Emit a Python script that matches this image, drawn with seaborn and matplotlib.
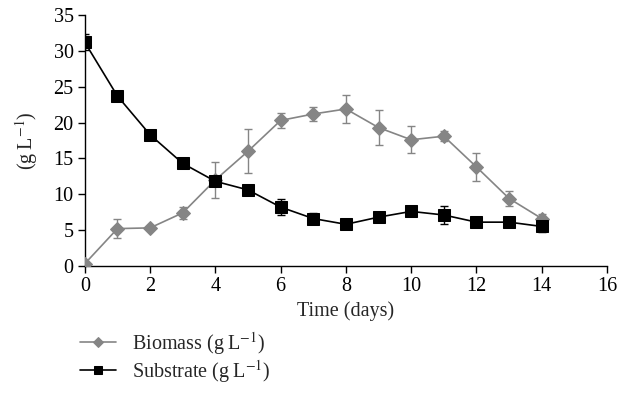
import numpy as np
import pandas as pd
import seaborn as sns
import matplotlib.pyplot as plt

# values
days = [0, 1, 2, 3, 4, 5, 6, 7, 8, 9, 10, 11, 12, 13, 14]
biomass = [0.3, 5.2, 5.3, 7.4, 12.0, 16.0, 20.3, 21.2, 21.9, 19.3, 17.6, 18.1, 13.8, 9.4, 6.6]
biomass_err = [0.2, 1.3, 0.3, 0.8, 2.5, 3.1, 1.0, 1.0, 2.0, 2.4, 1.9, 0.7, 1.9, 1.1, 0.6]
substrate = [31.2, 23.7, 18.3, 14.3, 11.8, 10.6, 8.2, 6.6, 5.8, 6.8, 7.6, 7.1, 6.1, 6.1, 5.5]
substrate_err = [1.1, 0.3, 0.3, 0.3, 0.4, 0.3, 1.1, 0.8, 0.3, 0.5, 0.3, 1.2, 0.3, 0.3, 0.8]

sns.set_style("ticks")
plt.rcParams['font.family'] = ['Liberation Serif', 'DejaVu Serif']
plt.rcParams['mathtext.fontset'] = 'stix'

df = pd.DataFrame({'day': days * 2,
                   'value': biomass + substrate,
                   'err': biomass_err + substrate_err,
                   'series': ['Biomass (g\u2009L$^{-1}$)'] * len(days) + ['Substrate (g\u2009L$^{-1}$)'] * len(days)})

fig = plt.figure(figsize=(6.33, 4.09), dpi=100)
ax = fig.add_axes([0.134, 0.350, 0.825, 0.613])

grey = '#858585'
colors = [grey, 'black']
markers = ['D', 's']
sizes = [7, 8]
for (name, sub), c, m, s in zip(df.groupby('series', sort=False), colors, markers, sizes):
    ax.errorbar(sub['day'], sub['value'], yerr=sub['err'], fmt='none', ecolor=c,
                elinewidth=1.0, capsize=3, capthick=1.0, zorder=2)
    sns.lineplot(data=sub, x='day', y='value', ax=ax, color=c, marker=m,
                 markersize=s, markeredgecolor=c, linewidth=1.2, label=name,
                 zorder=3)

fs = 14.5
ax.set_xlim(0, 16)
ax.set_ylim(0, 35)
ax.set_xticks(range(0, 17, 2))
ax.set_yticks(range(0, 36, 5))
ax.tick_params(labelsize=fs, direction='out', length=5, width=1, colors='black', pad=3)
sns.despine(ax=ax)
for sp in ['left', 'bottom']:
    ax.spines[sp].set_linewidth(1.0)
    ax.spines[sp].set_color('black')
ax.set_xlabel('Time (days)', fontsize=fs, labelpad=4)
ax.set_ylabel('(g\u2009L$^{-1}$)', fontsize=fs, labelpad=10)

leg = ax.legend(loc='upper left', bbox_to_anchor=(-0.01, -0.255), frameon=False,
                fontsize=fs, handlelength=1.8, labelspacing=0.05, borderaxespad=0,
                borderpad=0, markerscale=0.8)

fig.savefig('out.png', dpi=100)
